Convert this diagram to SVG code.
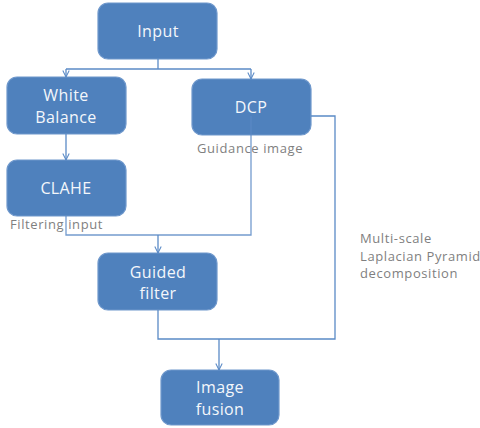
<svg xmlns="http://www.w3.org/2000/svg" width="480" height="428" viewBox="0 0 480 428">
<style>
.box{fill:#4f81bd;stroke:#6f98cc;stroke-width:1.2}
.t{fill:#f4f7fb;font-family:"Open Sans","Liberation Sans",sans-serif;font-size:16px;letter-spacing:0.4px;text-anchor:middle}
.lbl{fill:#7f7f7f;font-family:"Open Sans","Liberation Sans",sans-serif;font-size:13px;letter-spacing:0.6px}
.c{fill:none;stroke:#5a8ac6;stroke-width:1.3}
</style>
<defs>
<marker id="a" viewBox="0 0 10 10" refX="9" refY="5" markerWidth="8" markerHeight="8" orient="auto" markerUnits="userSpaceOnUse">
<path d="M1,1 L9,5 L1,9" fill="none" stroke="#5a8ac6" stroke-width="1.3"/>
</marker>
</defs>
<g id="input"><rect class="box" x="98" y="3" width="119" height="56" rx="10"/><text class="t" x="158" y="37">Input</text></g>
<g id="white-balance"><rect class="box" x="7" y="77" width="119" height="57" rx="10"/><text class="t" x="66" y="101">White</text><text class="t" x="66" y="123">Balance</text></g>
<g id="dcp"><rect class="box" x="192" y="79" width="119" height="56" rx="10"/><text class="t" x="251" y="113">DCP</text></g>
<g id="clahe"><rect class="box" x="7" y="160" width="119" height="56" rx="10"/><text class="t" x="66" y="194">CLAHE</text></g>
<g id="guided-filter"><rect class="box" x="98" y="253" width="119" height="57" rx="10"/><text class="t" x="158" y="278">Guided</text><text class="t" x="158" y="299">filter</text></g>
<g id="image-fusion"><rect class="box" x="161" y="370" width="118" height="55" rx="10"/><text class="t" x="220" y="393">Image</text><text class="t" x="220" y="415">fusion</text></g>
<g id="labels">
<text class="lbl" x="197" y="153">Guidance image</text>
<text class="lbl" x="10" y="229">Filtering input</text>
<text class="lbl" x="360" y="243">Multi-scale</text>
<text class="lbl" x="360" y="261">Laplacian Pyramid</text>
<text class="lbl" x="360" y="278">decomposition</text>
</g>
<g id="connectors">
<path class="c" d="M158,59 V69"/>
<path class="c" d="M66,69 H251"/>
<path class="c" d="M66,69 V77" marker-end="url(#a)"/>
<path class="c" d="M251,69 V79" marker-end="url(#a)"/>
<path class="c" d="M66,134 V160" marker-end="url(#a)"/>
<path class="c" d="M251,116 V235 H66 V216" stroke-opacity="0.85"/>
<path class="c" d="M158,235 V253" marker-end="url(#a)"/>
<path class="c" d="M311,116 H335 V339 H158 V310"/>
<path class="c" d="M219,339 V370" marker-end="url(#a)"/>
</g>
</svg>
